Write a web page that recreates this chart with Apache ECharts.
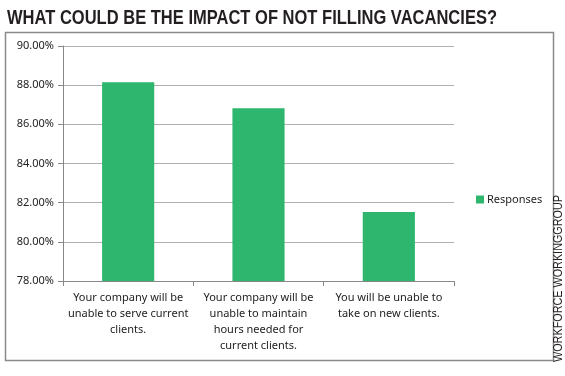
<!DOCTYPE html>
<html>
<head>
<meta charset="utf-8">
<script src="https://cdn.jsdelivr.net/npm/echarts@6/dist/echarts.min.js"></script>
<style>
  html, body { margin: 0; padding: 0; background: #fff; }
  #chart { width: 565px; height: 376px; }
</style>
</head>
<body>
<div id="chart"></div>
<script>
// Categories (x axis) and the single series
const categories = [
  'Your company will be\nunable to serve current\nclients.',
  'Your company will be\nunable to maintain\nhours needed for\ncurrent clients.',
  'You will be unable to\ntake on new clients.',
];
const responses = [88.15, 86.82, 81.52];
const seriesName = 'Responses';
const titleText = 'WHAT COULD BE THE IMPACT OF NOT FILLING VACANCIES?';
const creditText = 'WORKFORCE WORKINGGROUP';

// no condensed font installed, so squeeze a normal one to the width it takes in the picture
const measure = (text, font) => {
  const ctx = document.createElement('canvas').getContext('2d');
  ctx.font = font;
  return ctx.measureText(text).width;
};
const titleFont = 'bold 20px "Liberation Sans"';
const creditFont = '12px "Liberation Sans"';
const titleScale = 490 / measure(titleText, titleFont);
const creditScale = 167 / measure(creditText, creditFont);

const chart = echarts.init(document.getElementById('chart'));

chart.setOption({
  animation: false,
  // title, frame, vertical credit on the right
  graphic: [
    {
      type: 'text',
      x: 7,
      y: 8,
      scaleX: titleScale,
      scaleY: 1.05,
      style: {
        text: titleText,
        fontFamily: 'Liberation Sans',
        fontWeight: 'bold',
        fontSize: 20,
        fill: '#231f20',
        verticalAlign: 'top',
      },
      silent: true,
    },
    {
      type: 'rect',
      shape: { x: 5.5, y: 32.5, width: 548, height: 328 },
      style: { fill: 'none', stroke: '#8a8a8a', lineWidth: 1.5 },
      silent: true,
    },
    {
      type: 'text',
      x: 553,
      y: 362,
      rotation: Math.PI / 2,
      scaleX: creditScale,
      style: {
        text: creditText,
        fontFamily: 'Liberation Sans',
        fontSize: 12,
        fill: '#231f20',
        align: 'left',
        verticalAlign: 'top',
      },
      silent: true,
    },
  ],
  legend: {
    data: [seriesName],
    left: 471,
    top: 189,
    itemWidth: 8,
    itemHeight: 8,
    itemGap: 4,
    icon: 'rect',
    textStyle: { fontFamily: 'Noto Sans', fontSize: 11, color: '#222', padding: [0, 0, 0, -2] },
  },
  grid: {
    left: 63,
    right: 111,
    top: 46,
    bottom: 95,
  },
  xAxis: {
    type: 'category',
    data: categories,
    axisLine: { lineStyle: { color: '#888', width: 1 } },
    axisTick: { show: true, length: 5, lineStyle: { color: '#888' } },
    axisLabel: {
      interval: 0,
      margin: 9,
      fontFamily: 'Noto Sans',
      fontSize: 11,
      lineHeight: 16,
      color: '#222',
    },
  },
  yAxis: {
    type: 'value',
    min: 78,
    max: 90,
    interval: 2,
    axisLine: { show: true, lineStyle: { color: '#888', width: 1 } },
    axisTick: { show: true, length: 5, lineStyle: { color: '#888' } },
    splitLine: { lineStyle: { color: '#b0b0b0', width: 1 } },
    axisLabel: {
      margin: 9,
      fontFamily: 'Noto Sans',
      fontSize: 11,
      color: '#222',
      formatter: v => v.toFixed(2) + '%',
    },
  },
  series: [
    {
      name: seriesName,
      type: 'bar',
      data: responses,
      barCategoryGap: '60%',
      itemStyle: { color: '#2eb66e' },
    },
  ],
});
</script>
</body>
</html>
